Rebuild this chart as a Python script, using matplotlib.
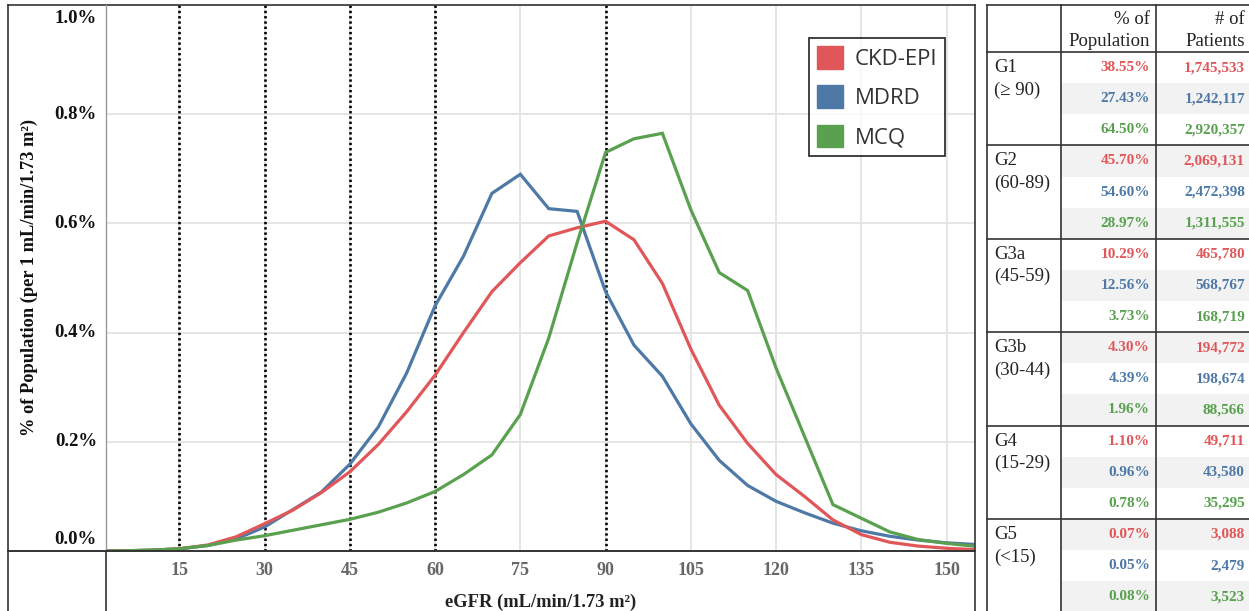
import matplotlib
matplotlib.use("Agg")
import matplotlib.pyplot as plt
from matplotlib.patches import Patch, Rectangle

# ---------------- data ----------------
egfr = [0, 5, 10, 15, 20, 25, 30, 35, 40, 45, 50, 55, 60, 65, 70, 75, 80, 85, 90,
        95, 100, 105, 110, 115, 120, 125, 130, 135, 140, 145, 150, 155]
ckd_epi = [0.0, 0.0003, 0.0015, 0.004, 0.011, 0.026, 0.050, 0.075, 0.107, 0.145, 0.195,
           0.255, 0.322, 0.400, 0.475, 0.528, 0.577, 0.592, 0.604, 0.570, 0.490, 0.370,
           0.267, 0.197, 0.140, 0.100, 0.057, 0.030, 0.016, 0.009, 0.005, 0.0025]
mdrd = [0.0, 0.0003, 0.0015, 0.004, 0.010, 0.022, 0.044, 0.076, 0.108, 0.159, 0.227,
        0.326, 0.449, 0.540, 0.655, 0.690, 0.627, 0.622, 0.475, 0.377, 0.320, 0.233,
        0.166, 0.120, 0.091, 0.070, 0.051, 0.037, 0.027, 0.020, 0.015, 0.012]
mcq = [0.0, 0.0003, 0.0015, 0.004, 0.010, 0.020, 0.028, 0.038, 0.048, 0.058, 0.071,
       0.088, 0.109, 0.140, 0.176, 0.250, 0.390, 0.565, 0.730, 0.755, 0.765, 0.625,
       0.510, 0.477, 0.335, 0.210, 0.085, 0.060, 0.035, 0.021, 0.014, 0.0086]

series_names = ["CKD-EPI", "MDRD", "MCQ"]
stage_cutoffs = [15, 30, 45, 60, 90]
x_ticks = [15, 30, 45, 60, 75, 90, 105, 120, 135, 150]
y_ticks = [0.0, 0.2, 0.4, 0.6, 0.8, 1.0]

groups = ["G1", "G2", "G3a", "G3b", "G4", "G5"]
group_ranges = ["(\u2265 90)", "(60-89)", "(45-59)", "(30-44)", "(15-29)", "(<15)"]
pct_ckd = [38.55, 45.70, 10.29, 4.30, 1.10, 0.07]
pct_mdrd = [27.43, 54.60, 12.56, 4.39, 0.96, 0.05]
pct_mcq = [64.50, 28.97, 3.73, 1.96, 0.78, 0.08]
n_ckd = [1745533, 2069131, 465780, 194772, 49711, 3088]
n_mdrd = [1242117, 2472398, 568767, 198674, 43580, 2479]
n_mcq = [2920357, 1311555, 168719, 88566, 35295, 3523]

# ---------------- style ----------------
RED, BLUE, GREEN = "#E15759", "#4E79A7", "#59A14F"
colors = [RED, BLUE, GREEN]
SERIF = "Liberation Serif"
W, H = 1249, 611

fig = plt.figure(figsize=(W / 100, H / 100), dpi=100)

# main plot area (pixel box 106..975 x 5..551)
L, R, T, B = 106, 975, 5, 551
ax = fig.add_axes([L / W, 1 - B / H, (R - L) / W, (B - T) / H], zorder=1)
ax.set_xlim(2.1, 155)
ax.set_ylim(0, 1.0)
for s in ax.spines.values():
    s.set_visible(False)

# grid
for xv in x_ticks:
    ax.axvline(xv, color="#e3e3e3", lw=1.3, zorder=0)
for yv in y_ticks:
    ax.axhline(yv, color="#e3e3e3", lw=1.3, zorder=0)
for xv in stage_cutoffs:
    ax.axvline(xv, color="black", lw=1.9, linestyle=(0, (0.9, 1.1)), zorder=1)

# lines
ax.plot(egfr, mdrd, color=BLUE, lw=2.3, zorder=3, solid_joinstyle="miter")
ax.plot(egfr, mcq, color=GREEN, lw=2.3, zorder=4, solid_joinstyle="miter")
ax.plot(egfr, ckd_epi, color=RED, lw=2.3, zorder=3.5, solid_joinstyle="miter")

# ticks
ax.set_xticks(x_ticks)
ax.set_xticklabels([str(v) for v in x_ticks], fontfamily=SERIF, fontweight="bold",
                   fontsize=13, color="#666666")
ax.tick_params(axis="x", length=0, pad=8)
ax.set_yticks([])
ytr = ax.get_yaxis_transform()
for yv in y_ticks:
    va = "center"
    yy = yv
    if yv == 0.0:
        va = "bottom"
        yy = 0.006
    elif yv == 1.0:
        va = "top"
        yy = 0.99
    ax.text(-0.0105, yy, f"{yv:.1f}%", transform=ytr, ha="right", va=va,
            fontfamily=SERIF, fontweight="bold", fontsize=13.5, color="#111111")

ax.set_xlabel("eGFR (mL/min/1.73 m\u00b2)", fontfamily=SERIF, fontweight="bold",
              fontsize=13.3, color="#222222", va="center")
ax.xaxis.set_label_coords(0.5, (B - 602) / (B - T))
ax.set_ylabel("% of Population (per 1 mL/min/1.73 m\u00b2)", fontfamily=SERIF,
              fontweight="bold", fontsize=13.2, color="#111111", va="center")
ax.yaxis.set_label_coords((29 - L) / (R - L), 0.5)

# legend
handles = [Patch(facecolor=c, edgecolor=c) for c in colors]
leg = ax.legend(handles, series_names, loc="upper left",
                bbox_to_anchor=((809 - L) / (R - L), (B - 38) / (B - T)),
                borderaxespad=0, frameon=True, fancybox=False,
                prop={"family": "Open Sans", "size": 16},
                handlelength=1.2, handleheight=1.2, handletextpad=0.5,
                labelspacing=0.7, borderpad=0.35, labelcolor="#333333")
leg.get_frame().set_edgecolor("black")
leg.get_frame().set_linewidth(1.3)

# ---------------- overlay: frames and table ----------------
ov = fig.add_axes([0, 0, 1, 1], zorder=3)
ov.set_xlim(0, W)
ov.set_ylim(H, 0)
ov.axis("off")
ov.patch.set_alpha(0)

dark = "#333333"
# chart frame
ov.plot([8, R], [T, T], color=dark, lw=1.2)
ov.plot([8, 8], [T, H], color=dark, lw=1.2)
ov.plot([R, R], [T, H], color=dark, lw=1.2)
ov.plot([L, L], [T, B], color="#9a9a9a", lw=1.0)
ov.plot([L, L], [B, H], color=dark, lw=1.2)
ov.plot([8, R], [B, B], color=dark, lw=1.4)

# table
tl, c1, c2, tr = 987, 1061, 1156, 1252
ttop, hdr = 5, 52
row_h = 31.13
n_rows = 3 * len(groups)
for r in range(n_rows):
    if r % 2 == 1:
        y0 = hdr + r * row_h
        ov.add_patch(Rectangle((c1, y0), tr - c1, row_h, facecolor="#f2f2f2",
                               edgecolor="none", zorder=0))
ov.plot([tl, tr], [ttop, ttop], color=dark, lw=1.2)
ov.plot([tl, tl], [ttop, H], color=dark, lw=1.2)
ov.plot([c1, c1], [ttop, H], color=dark, lw=1.2)
ov.plot([c2, c2], [ttop, H], color=dark, lw=1.2)
ov.plot([tl, tr], [hdr, hdr], color=dark, lw=1.2)
for g in range(1, len(groups)):
    yy = hdr + 3 * g * row_h
    ov.plot([tl, tr], [yy, yy], color=dark, lw=1.2)

hdr_kw = dict(fontfamily=SERIF, fontsize=13.5, color="#222222", ha="right", va="center")
ov.text(1150, 19, "% of", **hdr_kw)
ov.text(1150, 41, "Population", **hdr_kw)
ov.text(1245, 19, "# of", **hdr_kw)
ov.text(1245, 41, "Patients", **hdr_kw)

pct_series = [pct_ckd, pct_mdrd, pct_mcq]
n_series = [n_ckd, n_mdrd, n_mcq]
for gi, (gname, grange) in enumerate(zip(groups, group_ranges)):
    gy = hdr + 3 * gi * row_h
    ov.text(994, gy + 15.6, gname, fontfamily=SERIF, fontsize=13.5, color="#222222",
            ha="left", va="center")
    ov.text(994, gy + 38, grange, fontfamily=SERIF, fontsize=13.5, color="#222222",
            ha="left", va="center")
    for si in range(3):
        ry = gy + (si + 0.5) * row_h
        ov.text(1150, ry, f"{pct_series[si][gi]:.2f}%", fontfamily=SERIF,
                fontweight="bold", fontsize=11, color=colors[si], ha="right", va="center")
        ov.text(1245, ry, f"{n_series[si][gi]:,}", fontfamily=SERIF,
                fontweight="bold", fontsize=11, color=colors[si], ha="right", va="center")

fig.savefig("out.png", dpi=100, facecolor="white")
